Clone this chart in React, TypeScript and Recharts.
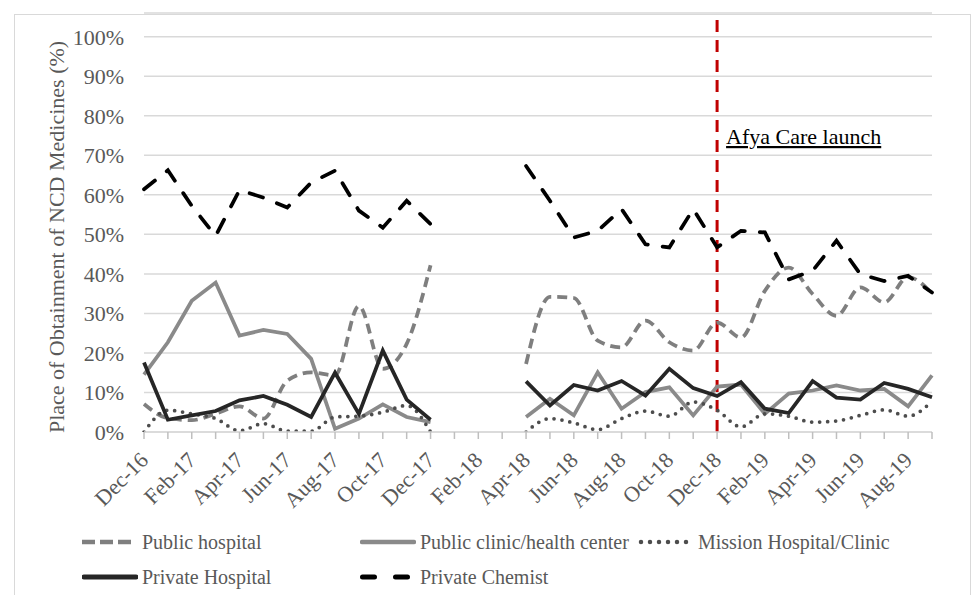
import React from "react";
import { CartesianGrid, Line, LineChart, ReferenceLine, XAxis, YAxis } from "recharts";

// monthly survey rounds, Jan-Mar 2018 missing
const months = [
  "Dec-16", "Jan-17", "Feb-17", "Mar-17", "Apr-17", "May-17", "Jun-17", "Jul-17",
  "Aug-17", "Sep-17", "Oct-17", "Nov-17", "Dec-17", "Jan-18", "Feb-18", "Mar-18",
  "Apr-18", "May-18", "Jun-18", "Jul-18", "Aug-18", "Sep-18", "Oct-18", "Nov-18",
  "Dec-18", "Jan-19", "Feb-19", "Mar-19", "Apr-19", "May-19", "Jun-19", "Jul-19",
  "Aug-19", "Sep-19",
];

const publicHospital = [
  7.1, 3.5, 3.0, 4.6, 6.5, 3.4, 13.0, 15.1, 14.3, 31.9, 16.0, 22.3, 42.2, null, null, null,
  17.2, 34.2, 33.9, 23.1, 21.4, 28.2, 22.7, 20.6, 27.7, 23.9, 35.7, 41.6, 34.9, 29.4,
  36.6, 32.8, 39.2, 35.0,
];
const publicClinic = [
  14.5, 22.7, 33.2, 37.8, 24.4, 25.8, 24.8, 18.5, 0.8, 3.4, 7.0, 3.8, 2.5, null, null, null,
  3.8, 8.4, 4.2, 15.1, 5.9, 10.1, 11.3, 4.2, 11.5, 12.0, 4.6, 9.7, 10.5, 11.8, 10.5,
  10.9, 6.5, 14.3,
];
const missionHospital = [
  0.0, 5.5, 4.6, 3.4, 0.3, 2.1, 0.2, 0.2, 3.8, 4.0, 5.0, 6.7, 0.0, null, null, null,
  0.0, 3.4, 2.3, 0.6, 3.4, 5.3, 4.0, 7.6, 5.5, 1.3, 4.6, 4.0, 2.5, 2.8, 4.2, 5.6, 4.0, 7.8,
];
const privateHospital = [
  17.6, 3.1, 4.2, 5.3, 8.0, 9.1, 6.9, 3.8, 15.0, 4.6, 20.6, 8.2, 3.1, null, null, null,
  12.8, 6.7, 11.9, 10.5, 12.9, 9.2, 16.0, 11.1, 9.1, 12.6, 5.9, 4.8, 12.9, 8.7, 8.2,
  12.4, 10.9, 8.8,
];
const privateChemist = [
  61.4, 66.2, 57.2, 49.6, 61.2, 59.3, 56.8, 63.1, 66.1, 56.0, 51.7, 58.5, 52.6, null, null, null,
  67.3, 58.5, 49.2, 50.9, 56.4, 47.5, 46.7, 56.4, 46.7, 50.9, 50.5, 38.6, 40.8, 48.4,
  39.9, 38.2, 39.5, 35.3,
];

const yTicks = [0, 10, 20, 30, 40, 50, 60, 70, 80, 90, 100];
const launchMonth = "Dec-18";

const data = months.map((m, i) => ({
  month: m,
  publicHospital: publicHospital[i],
  publicClinic: publicClinic[i],
  missionHospital: missionHospital[i],
  privateHospital: privateHospital[i],
  privateChemist: privateChemist[i],
}));

const FONT = "'Liberation Serif', 'Times New Roman', serif";
const TEXT = "#595959";

const series = [
  { key: "publicHospital", name: "Public hospital", color: "#7f7f7f", dash: "10 6", cap: "butt", curve: "monotone" },
  { key: "publicClinic", name: "Public clinic/health center", color: "#8a8a8a", dash: undefined, cap: "butt", curve: "linear" },
  { key: "missionHospital", name: "Mission Hospital/Clinic", color: "#4d4d4d", dash: "0 8", cap: "round", curve: "monotone" },
  { key: "privateHospital", name: "Private Hospital", color: "#262626", dash: undefined, cap: "butt", curve: "linear" },
  { key: "privateChemist", name: "Private Chemist", color: "#000000", dash: "14 15", cap: "round", curve: "linear" },
];

function MonthTick(props: any) {
  const { x, y, payload, index } = props;
  if (index % 2 !== 0) return <g />;
  return (
    <text
      x={x}
      y={y}
      dy="0.35em"
      textAnchor="end"
      transform={`rotate(-45 ${x} ${y})`}
      fontFamily={FONT}
      fontSize={22}
      fill={TEXT}
    >
      {payload.value}
    </text>
  );
}

function LaunchLabel(props: any) {
  const vx = props.viewBox ? props.viewBox.x : 718;
  return (
    <text x={vx + 9} y={144} fontFamily={FONT} fontSize={22} fill="#000" textDecoration="underline">
      Afya Care launch
    </text>
  );
}

// legend swatches, laid out like the Excel two-row legend
const legendPos = [
  { x: 82, y: 542 },
  { x: 360, y: 542 },
  { x: 638, y: 542 },
  { x: 82, y: 577 },
  { x: 360, y: 577 },
];
const legendDash: Record<string, { dash?: string; cap: string; w: number; x1: number; x2: number }> = {
  publicHospital: { dash: "13 5", cap: "butt", w: 4.5, x1: 0, x2: 50 },
  publicClinic: { dash: undefined, cap: "round", w: 4.5, x1: 2, x2: 54 },
  missionHospital: { dash: "0 9", cap: "round", w: 4.5, x1: 3, x2: 50 },
  privateHospital: { dash: undefined, cap: "round", w: 5, x1: 2, x2: 54 },
  privateChemist: { dash: "12 21", cap: "round", w: 5, x1: 2.5, x2: 50 },
};

function ChartLegend() {
  return (
    <>
      {series.map((s, i) => {
        const p = legendPos[i];
        const d = legendDash[s.key];
        return (
          <div
            key={s.key}
            style={{ position: "absolute", left: p.x, top: p.y - 14, height: 28, display: "flex", alignItems: "center" }}
          >
            <svg width={56} height={10} style={{ display: "block" }}>
              <line
                x1={d.x1}
                y1={5}
                x2={d.x2}
                y2={5}
                stroke={s.color}
                strokeWidth={d.w}
                strokeDasharray={d.dash}
                strokeLinecap={d.cap as any}
              />
            </svg>
            <span style={{ marginLeft: 4, fontFamily: FONT, fontSize: 20, color: TEXT, whiteSpace: "nowrap" }}>
              {s.name}
            </span>
          </div>
        );
      })}
    </>
  );
}

export default function App() {
  return (
    <div style={{ position: "absolute", left: 0, top: 0, width: 971, height: 595, overflow: "hidden", background: "#fff" }}>
      <div
        style={{ position: "absolute", left: 14, top: 14, width: 955, height: 620, border: "1px solid #d9d9d9" }}
      />
      <div style={{ position: "absolute", left: 0, top: 0 }}>
        <LineChart width={971} height={595} data={data} margin={{ top: 13, right: 39, bottom: 103, left: 44 }}>
          <CartesianGrid vertical={false} stroke="#d9d9d9" strokeWidth={1.5} />
          <XAxis
            dataKey="month"
            interval={0}
            height={60}
            axisLine={{ stroke: "#d9d9d9", strokeWidth: 1.5 }}
            tickLine={{ stroke: "#bfbfbf", strokeWidth: 1.5 }}
            tickSize={7}
            tickMargin={17}
            tick={<MonthTick />}
          />
          <YAxis
            width={100}
            domain={[0, 106]}
            ticks={yTicks}
            allowDataOverflow
            axisLine={false}
            tickLine={false}
            tickSize={0}
            tickMargin={20}
            tickFormatter={(v) => `${v}%`}
            tick={{ fontFamily: FONT, fontSize: 22, fill: TEXT }}
          />
          <ReferenceLine
            x={launchMonth}
            stroke="#c00000"
            strokeWidth={3}
            strokeDasharray="12 8"
            label={<LaunchLabel />}
          />
          {series.map((s) => (
            <Line
              key={s.key}
              type={s.curve as any}
              dataKey={s.key}
              name={s.name}
              stroke={s.color}
              strokeWidth={3.75}
              strokeDasharray={s.dash}
              strokeLinecap={s.cap as any}
              dot={false}
              activeDot={false}
              connectNulls={false}
              isAnimationActive={false}
            />
          ))}
          <text
            x={56}
            y={237}
            transform="rotate(-90 56 237)"
            textAnchor="middle"
            dominantBaseline="central"
            fontFamily={FONT}
            fontSize={22}
            fill={TEXT}
          >
            Place of Obtainment of NCD Medicines (%)
          </text>
        </LineChart>
      </div>
      <ChartLegend />
    </div>
  );
}
